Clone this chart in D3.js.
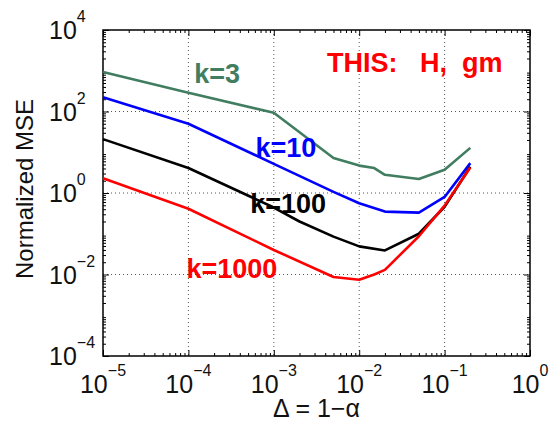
<!DOCTYPE html>
<html>
<head>
<meta charset="utf-8">
<script src="https://cdn.jsdelivr.net/npm/d3@7"></script>
<style>
  body { margin: 0; background: #fff; }
  svg { display: block; font-family: "Liberation Sans", Arial, sans-serif; }
</style>
</head>
<body>
<svg id="chart" width="550" height="426"></svg>
<script>
// values
let seriesNames = ["k=3", "k=10", "k=100", "k=1000"];

let deltaK3 = [1e-5, 1e-4, 1e-3, 5e-3, 1e-2, 1.5e-2, 2e-2, 5e-2, 0.1, 0.2];
let mseK3 = [930, 290, 93, 7.2, 4.7, 4.1, 2.8, 2.2, 3.7, 12.8];

let deltaK10 = [1e-5, 1e-4, 1e-3, 5e-3, 1e-2, 2e-2, 5e-2, 0.1, 0.2];
let mseK10 = [224, 50, 5.2, 1.07, 0.56, 0.35, 0.33, 0.8, 5.4];

let deltaK100 = [1e-5, 1e-4, 1e-3, 2e-3, 5e-3, 1e-2, 2e-2, 5e-2, 0.1, 0.2];
let mseK100 = [21, 4.1, 0.44, 0.2, 0.085, 0.049, 0.039, 0.10, 0.46, 4.4];

let deltaK1000 = [1e-5, 1e-4, 1e-3, 5e-3, 1e-2, 1.5e-2, 2e-2, 5e-2, 0.1, 0.2];
let mseK1000 = [2.3, 0.41, 0.04, 0.0087, 0.0074, 0.01, 0.013, 0.087, 0.49, 4.2];

let xTickExp = [-5, -4, -3, -2, -1, 0];
let yTickExp = [-4, -2, 0, 2, 4];

// label anchors in data units (left edge, baseline)
let labelNames = ["k=3", "k=10", "k=100", "k=1000", "THIS:   H,  gm"];
let labelDelta = [1.17e-4, 6.1e-4, 5.3e-4, 9.5e-5, 4.2e-3];
let labelMse = [490, 7.7, 0.33, 0.0083, 950];

let green = "#417d60";
let colors = [green, "#0000ff", "#000000", "#ff0000"];
let labelColors = [green, "#0000ff", "#000000", "#ff0000", "#ff0000"];

let margin = {left: 103, top: 30, right: 20, bottom: 70};
let width = 550, height = 426;
let plotW = width - margin.left - margin.right;
let plotH = height - margin.top - margin.bottom;

let svg = d3.select("#chart");
let g = svg.append("g").attr("transform", "translate(" + margin.left + "," + margin.top + ")");

let x = d3.scaleLog().domain([1e-5, 1]).range([0, plotW]);
let y = d3.scaleLog().domain([1e-4, 1e4]).range([plotH, 0]);

// dotted grid at decades
g.selectAll(".gridX")
  .data(xTickExp.slice(1, -1))
  .enter()
  .append("line")
    .attr("x1", d => x(Math.pow(10, d)))
    .attr("x2", d => x(Math.pow(10, d)))
    .attr("y1", 0)
    .attr("y2", plotH)
    .style("stroke", "#555")
    .style("stroke-width", "1px")
    .style("stroke-dasharray", "1,3");

g.selectAll(".gridY")
  .data(yTickExp.slice(1, -1))
  .enter()
  .append("line")
    .attr("x1", 0)
    .attr("x2", plotW)
    .attr("y1", d => y(Math.pow(10, d)))
    .attr("y2", d => y(Math.pow(10, d)))
    .style("stroke", "#555")
    .style("stroke-width", "1px")
    .style("stroke-dasharray", "1,3");

// minor + major ticks on all four sides, pointing inward
let xMinor = [], yMinor = [];
for (let e = -5; e < 0; e++) for (let m = 2; m < 10; m++) xMinor.push(m * Math.pow(10, e));
for (let e = -4; e < 4; e++) for (let m = 2; m < 10; m++) yMinor.push(m * Math.pow(10, e));

let axBottom = d3.axisBottom(x).tickValues(xMinor).tickSize(-3).tickFormat("");
let axTop = d3.axisTop(x).tickValues(xMinor).tickSize(-3).tickFormat("");
let axLeft = d3.axisLeft(y).tickValues(yMinor).tickSize(-3).tickFormat("");
let axRight = d3.axisRight(y).tickValues(yMinor).tickSize(-3).tickFormat("");
let majX = xTickExp.map(d => Math.pow(10, d));
let majY = yTickExp.map(d => Math.pow(10, d));

[
  [axBottom, "translate(0," + plotH + ")"],
  [axTop, "translate(0,0)"],
  [axLeft, "translate(0,0)"],
  [axRight, "translate(" + plotW + ",0)"],
  [d3.axisBottom(x).tickValues(majX).tickSize(-6).tickFormat(""), "translate(0," + plotH + ")"],
  [d3.axisTop(x).tickValues(majX).tickSize(-6).tickFormat(""), "translate(0,0)"],
  [d3.axisLeft(y).tickValues(majY).tickSize(-6).tickFormat(""), "translate(0,0)"],
  [d3.axisRight(y).tickValues(majY).tickSize(-6).tickFormat(""), "translate(" + plotW + ",0)"]
].forEach(function(a) {
  let ax = g.append("g").attr("transform", a[1]).call(a[0]);
  ax.select(".domain").remove();
  ax.selectAll("line").style("stroke", "#000").style("stroke-width", "1px");
});

// box
g.append("rect")
  .attr("x", 0).attr("y", 0)
  .attr("width", plotW).attr("height", plotH)
  .style("fill", "none")
  .style("stroke", "#000")
  .style("stroke-width", "1.5px");

// curves
let seriesX = [deltaK3, deltaK10, deltaK100, deltaK1000];
let seriesY = [mseK3, mseK10, mseK100, mseK1000];
let line = d3.line().x(d => x(d[0])).y(d => y(d[1]));

g.selectAll(".curve")
  .data(seriesNames)
  .enter()
  .append("path")
    .attr("d", (d, i) => line(d3.zip(seriesX[i], seriesY[i])))
    .style("fill", "none")
    .style("stroke", (d, i) => colors[i])
    .style("stroke-width", "2.6px")
    .style("stroke-linejoin", "round");

// curve labels
g.selectAll(".curveLabel")
  .data(labelNames)
  .enter()
  .append("text")
    .attr("x", (d, i) => x(labelDelta[i]))
    .attr("y", (d, i) => y(labelMse[i]))
    .text(d => d)
    .style("white-space", "pre")
    .attr("xml:space", "preserve")
    .style("fill", (d, i) => labelColors[i])
    .style("font-weight", "bold")
    .style("font-size", "27px");

// x tick labels
let xt = g.selectAll(".xTick")
  .data(xTickExp)
  .enter()
  .append("text")
    .attr("x", d => x(Math.pow(10, d)))
    .attr("y", plotH + 37)
    .style("text-anchor", "middle")
    .style("font-size", "25px")
    .style("fill", "#111");
xt.append("tspan").text("10");
xt.append("tspan")
  .attr("dy", -17)
  .style("font-size", "16px")
  .text(d => String(d).replace("-", "\u2212"));

// y tick labels
let yt = g.selectAll(".yTick")
  .data(yTickExp)
  .enter()
  .append("text")
    .attr("x", 49 - margin.left)
    .attr("y", d => y(Math.pow(10, d)) + 9)
    .style("text-anchor", "start")
    .style("font-size", "25px")
    .style("fill", "#111");
yt.append("tspan").text("10");
yt.append("tspan")
  .attr("dy", -17)
  .style("font-size", "16px")
  .text(d => String(d).replace("-", "\u2212"));

// axis titles
svg.append("text")
  .attr("x", margin.left + plotW / 2)
  .attr("y", 417)
  .style("text-anchor", "middle")
  .style("font-size", "25px")
  .style("fill", "#111")
  .text("\u0394 = 1\u2212\u03b1");

svg.append("text")
  .attr("transform", "translate(33," + (margin.top + plotH / 2 - 4) + ") rotate(-90)")
  .style("text-anchor", "middle")
  .style("font-size", "24px")
  .style("fill", "#111")
  .text("Normalized MSE");
</script>
</body>
</html>
